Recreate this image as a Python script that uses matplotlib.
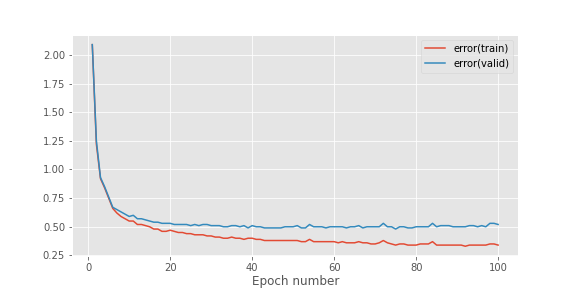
import matplotlib
matplotlib.use("Agg")
import matplotlib.pyplot as plt
import numpy as np

plt.style.use('ggplot')

epochs = list(range(1, 101))

error_train = [
    2.09, 1.22, 0.92, 0.84, 0.75, 0.66, 0.62, 0.59, 0.57, 0.55,
    0.55, 0.52, 0.52, 0.51, 0.50, 0.48, 0.48, 0.46, 0.46, 0.47,
    0.46, 0.45, 0.45, 0.44, 0.44, 0.43, 0.43, 0.43, 0.42, 0.42,
    0.41, 0.41, 0.40, 0.40, 0.41, 0.40, 0.40, 0.39, 0.40, 0.40,
    0.39, 0.39, 0.38, 0.38, 0.38, 0.38, 0.38, 0.38, 0.38, 0.38,
    0.38, 0.37, 0.37, 0.39, 0.37, 0.37, 0.37, 0.37, 0.37, 0.37,
    0.36, 0.37, 0.36, 0.36, 0.36, 0.37, 0.36, 0.36, 0.35, 0.35,
    0.36, 0.38, 0.36, 0.35, 0.34, 0.35, 0.35, 0.34, 0.34, 0.34,
    0.35, 0.35, 0.35, 0.37, 0.34, 0.34, 0.34, 0.34, 0.34, 0.34,
    0.34, 0.33, 0.34, 0.34, 0.34, 0.34, 0.34, 0.35, 0.35, 0.34,
]

error_valid = [
    2.09, 1.25, 0.93, 0.85, 0.76, 0.67, 0.65, 0.63, 0.61, 0.59,
    0.60, 0.57, 0.57, 0.56, 0.55, 0.54, 0.54, 0.53, 0.53, 0.53,
    0.52, 0.52, 0.52, 0.52, 0.51, 0.52, 0.51, 0.52, 0.52, 0.51,
    0.51, 0.51, 0.50, 0.50, 0.51, 0.51, 0.50, 0.51, 0.49, 0.51,
    0.50, 0.50, 0.49, 0.49, 0.49, 0.49, 0.49, 0.50, 0.50, 0.50,
    0.51, 0.49, 0.49, 0.52, 0.50, 0.50, 0.50, 0.49, 0.50, 0.50,
    0.50, 0.50, 0.49, 0.50, 0.50, 0.51, 0.49, 0.50, 0.50, 0.50,
    0.50, 0.53, 0.50, 0.50, 0.48, 0.50, 0.50, 0.49, 0.49, 0.50,
    0.50, 0.50, 0.50, 0.53, 0.50, 0.51, 0.51, 0.51, 0.50, 0.50,
    0.50, 0.50, 0.51, 0.51, 0.50, 0.51, 0.50, 0.53, 0.53, 0.52,
]

fig = plt.figure(figsize=(8, 4), dpi=72)
ax = fig.add_subplot(111)
ax.plot(epochs, error_train, label='error(train)')
ax.plot(epochs, error_valid, label='error(valid)')
ax.legend(loc=0)
ax.set_xlabel('Epoch number', fontsize=12, labelpad=1.5)
fig.savefig('out.png', dpi=72)
